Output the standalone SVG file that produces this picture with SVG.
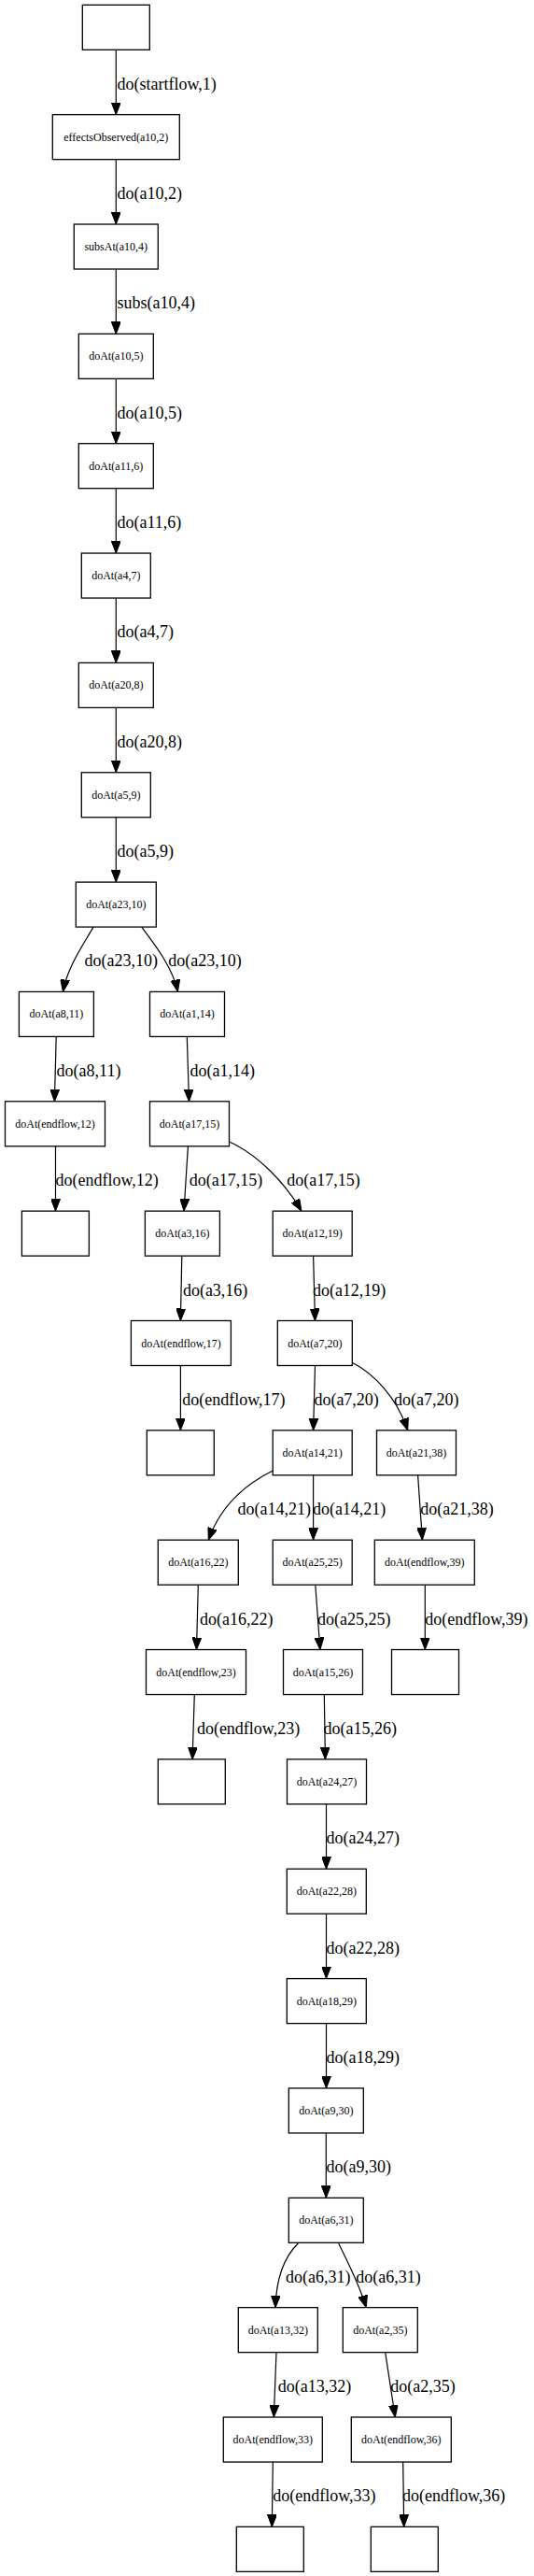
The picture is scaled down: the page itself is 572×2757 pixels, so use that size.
<svg xmlns="http://www.w3.org/2000/svg" width="572" height="2757" viewBox="0 0 572 2757">
<style>
rect{fill:#fff;stroke:#000;stroke-width:1.3}
.n{font-family:"Liberation Serif",serif;font-size:12px;text-anchor:middle;fill:#000}
.l{font-family:"Liberation Serif",serif;font-size:18px;fill:#000}
path{fill:none;stroke:#000;stroke-width:1.2;marker-end:url(#a)}
</style>
<defs>
<marker id="a" markerUnits="userSpaceOnUse" viewBox="0 0 13 10" refX="13" refY="5" markerWidth="13" markerHeight="10" orient="auto">
<path d="M0,0 L13,5 L0,10 z" style="fill:#000;stroke:#000;stroke-width:1;marker-end:none"/>
</marker>
</defs>
<rect x="0" y="0" width="572" height="2757" style="stroke:none"/>
<g id="edges">
<path d="M124.3,53.3 L124.3,122.65"/><text class="l" x="125.5" y="95.65">do(startflow,1)</text>
<path d="M124.3,170.65 L124.3,240"/><text class="l" x="125.5" y="213">do(a10,2)</text>
<path d="M124.3,288 L124.3,357.35"/><text class="l" x="125.5" y="330.35">subs(a10,4)</text>
<path d="M124.3,405.35 L124.3,474.7"/><text class="l" x="125.5" y="447.7">do(a10,5)</text>
<path d="M124.3,522.7 L124.3,592.05"/><text class="l" x="125.5" y="565.05">do(a11,6)</text>
<path d="M124.3,640.05 L124.3,709.4"/><text class="l" x="125.5" y="682.4">do(a4,7)</text>
<path d="M124.3,757.4 L124.3,826.75"/><text class="l" x="125.5" y="799.75">do(a20,8)</text>
<path d="M124.3,874.75 L124.3,944.1"/><text class="l" x="125.5" y="917.1">do(a5,9)</text>
<path d="M100,992.1 C90,1010 72,1035 67.5,1061.45"/><text class="l" x="90.5" y="1034.45">do(a23,10)</text>
<path d="M151.7,992.1 C165,1010 185,1035 190.4,1061.45"/><text class="l" x="180.2" y="1034.45">do(a23,10)</text>
<path d="M60.2,1109.45 L58.4,1178.8"/><text class="l" x="60.6" y="1151.8">do(a8,11)</text>
<path d="M200.3,1109.45 L202.5,1178.8"/><text class="l" x="203.6" y="1151.8">do(a1,14)</text>
<path d="M59.5,1226.8 L59.5,1296.15"/><text class="l" x="59.5" y="1269.15">do(endflow,12)</text>
<path d="M201.4,1226.8 L197,1296.15"/><text class="l" x="202.8" y="1269.15">do(a17,15)</text>
<path d="M245.1,1221.7 C275,1235 305,1265 322.9,1296.15"/><text class="l" x="307.2" y="1269.15">do(a17,15)</text>
<path d="M194.8,1344.15 L193.4,1413.5"/><text class="l" x="195.9" y="1386.5">do(a3,16)</text>
<path d="M335.6,1344.15 L337.5,1413.5"/><text class="l" x="334.9" y="1386.5">do(a12,19)</text>
<path d="M193.4,1461.5 L193.4,1530.85"/><text class="l" x="195.2" y="1503.85">do(endflow,17)</text>
<path d="M337.5,1461.5 L335.6,1530.85"/><text class="l" x="336.4" y="1503.85">do(a7,20)</text>
<path d="M377.2,1458.3 C400,1470 425,1495 436.7,1530.85"/><text class="l" x="422.1" y="1503.85">do(a7,20)</text>
<path d="M292.2,1574 C260,1590 235,1615 223.3,1648.2"/><text class="l" x="254.6" y="1621.2">do(a14,21)</text>
<path d="M335.6,1578.85 L335.6,1648.2"/><text class="l" x="334.9" y="1621.2">do(a14,21)</text>
<path d="M447.6,1578.85 L452.4,1648.2"/><text class="l" x="450.2" y="1621.2">do(a21,38)</text>
<path d="M212.3,1696.2 L210.5,1765.55"/><text class="l" x="214" y="1738.55">do(a16,22)</text>
<path d="M337.8,1696.2 L342.9,1765.55"/><text class="l" x="340" y="1738.55">do(a25,25)</text>
<path d="M455.3,1696.2 L455.3,1765.55"/><text class="l" x="455.3" y="1738.55">do(endflow,39)</text>
<path d="M208.3,1813.55 L206.1,1882.9"/><text class="l" x="210.9" y="1855.9">do(endflow,23)</text>
<path d="M347.3,1813.55 L348.4,1882.9"/><text class="l" x="346.6" y="1855.9">do(a15,26)</text>
<path d="M349.5,1930.9 L349.5,2000.25"/><text class="l" x="349.5" y="1973.25">do(a24,27)</text>
<path d="M349.5,2048.25 L349.5,2117.6"/><text class="l" x="349.5" y="2090.6">do(a22,28)</text>
<path d="M349.5,2165.6 L349.5,2234.95"/><text class="l" x="349.5" y="2207.95">do(a18,29)</text>
<path d="M349.3,2282.95 L349.3,2352.3"/><text class="l" x="349.5" y="2325.3">do(a9,30)</text>
<path d="M319.3,2401 C305,2415 296,2435 295,2469.65"/><text class="l" x="306" y="2442.65">do(a6,31)</text>
<path d="M362.7,2401 C372,2420 385,2445 392.3,2469.65"/><text class="l" x="381.3" y="2442.65">do(a6,31)</text>
<path d="M296,2517.65 L293.3,2587"/><text class="l" x="297.7" y="2560">do(a13,32)</text>
<path d="M412.7,2517.65 L423.3,2587"/><text class="l" x="418.3" y="2560">do(a2,35)</text>
<path d="M292.3,2635 L291.3,2704.35"/><text class="l" x="292.3" y="2677.35">do(endflow,33)</text>
<path d="M431.7,2635 L432.7,2704.35"/><text class="l" x="431" y="2677.35">do(endflow,36)</text>
</g>
<g id="n0"><rect x="88.3" y="5.3" width="72" height="48"/></g>
<g id="n1"><rect x="56.3" y="122.65" width="136" height="48"/><text class="n" x="124.3" y="150.65">effectsObserved(a10,2)</text></g>
<g id="n2"><rect x="79.3" y="240" width="90" height="48"/><text class="n" x="124.3" y="268">subsAt(a10,4)</text></g>
<g id="n3"><rect x="84.3" y="357.35" width="80" height="48"/><text class="n" x="124.3" y="385.35">doAt(a10,5)</text></g>
<g id="n4"><rect x="84.3" y="474.7" width="80" height="48"/><text class="n" x="124.3" y="502.7">doAt(a11,6)</text></g>
<g id="n5"><rect x="87.3" y="592.05" width="74" height="48"/><text class="n" x="124.3" y="620.05">doAt(a4,7)</text></g>
<g id="n6"><rect x="84.3" y="709.4" width="80" height="48"/><text class="n" x="124.3" y="737.4">doAt(a20,8)</text></g>
<g id="n7"><rect x="87.3" y="826.75" width="74" height="48"/><text class="n" x="124.3" y="854.75">doAt(a5,9)</text></g>
<g id="n8"><rect x="81.3" y="944.1" width="86" height="48"/><text class="n" x="124.3" y="972.1">doAt(a23,10)</text></g>
<g id="n9"><rect x="20.4" y="1061.45" width="80" height="48"/><text class="n" x="60.4" y="1089.45">doAt(a8,11)</text></g>
<g id="n10"><rect x="160.5" y="1061.45" width="80" height="48"/><text class="n" x="200.5" y="1089.45">doAt(a1,14)</text></g>
<g id="n11"><rect x="5.5" y="1178.8" width="107" height="48"/><text class="n" x="59" y="1206.8">doAt(endflow,12)</text></g>
<g id="n12"><rect x="160.5" y="1178.8" width="85" height="48"/><text class="n" x="203" y="1206.8">doAt(a17,15)</text></g>
<g id="n13"><rect x="23.4" y="1296.15" width="72" height="48"/></g>
<g id="n14"><rect x="155.4" y="1296.15" width="80" height="48"/><text class="n" x="195.4" y="1324.15">doAt(a3,16)</text></g>
<g id="n15"><rect x="292.2" y="1296.15" width="85" height="48"/><text class="n" x="334.7" y="1324.15">doAt(a12,19)</text></g>
<g id="n16"><rect x="140.4" y="1413.5" width="107" height="48"/><text class="n" x="193.9" y="1441.5">doAt(endflow,17)</text></g>
<g id="n17"><rect x="297.3" y="1413.5" width="80" height="48"/><text class="n" x="337.3" y="1441.5">doAt(a7,20)</text></g>
<g id="n18"><rect x="157.3" y="1530.85" width="72" height="48"/></g>
<g id="n19"><rect x="292.2" y="1530.85" width="85" height="48"/><text class="n" x="334.7" y="1558.85">doAt(a14,21)</text></g>
<g id="n20"><rect x="403.5" y="1530.85" width="85" height="48"/><text class="n" x="446" y="1558.85">doAt(a21,38)</text></g>
<g id="n21"><rect x="169.3" y="1648.2" width="86" height="48"/><text class="n" x="212.3" y="1676.2">doAt(a16,22)</text></g>
<g id="n22"><rect x="292.2" y="1648.2" width="85" height="48"/><text class="n" x="334.7" y="1676.2">doAt(a25,25)</text></g>
<g id="n23"><rect x="401.3" y="1648.2" width="107" height="48"/><text class="n" x="454.8" y="1676.2">doAt(endflow,39)</text></g>
<g id="n24"><rect x="156.5" y="1765.55" width="107" height="48"/><text class="n" x="210" y="1793.55">doAt(endflow,23)</text></g>
<g id="n25"><rect x="303.5" y="1765.55" width="85" height="48"/><text class="n" x="346" y="1793.55">doAt(a15,26)</text></g>
<g id="n26"><rect x="419.5" y="1765.55" width="72" height="48"/></g>
<g id="n27"><rect x="169.3" y="1882.9" width="72" height="48"/></g>
<g id="n28"><rect x="307.5" y="1882.9" width="85" height="48"/><text class="n" x="350" y="1910.9">doAt(a24,27)</text></g>
<g id="n29"><rect x="307.3" y="2000.25" width="85" height="48"/><text class="n" x="349.8" y="2028.25">doAt(a22,28)</text></g>
<g id="n30"><rect x="307.3" y="2117.6" width="85" height="48"/><text class="n" x="349.8" y="2145.6">doAt(a18,29)</text></g>
<g id="n31"><rect x="309.3" y="2234.95" width="80" height="48"/><text class="n" x="349.3" y="2262.95">doAt(a9,30)</text></g>
<g id="n32"><rect x="309.3" y="2352.3" width="80" height="48"/><text class="n" x="349.3" y="2380.3">doAt(a6,31)</text></g>
<g id="n33"><rect x="255.3" y="2469.65" width="85" height="48"/><text class="n" x="297.8" y="2497.65">doAt(a13,32)</text></g>
<g id="n34"><rect x="367.3" y="2469.65" width="80" height="48"/><text class="n" x="407.3" y="2497.65">doAt(a2,35)</text></g>
<g id="n35"><rect x="239.3" y="2587" width="106" height="48"/><text class="n" x="292.3" y="2615">doAt(endflow,33)</text></g>
<g id="n36"><rect x="376.3" y="2587" width="107" height="48"/><text class="n" x="429.8" y="2615">doAt(endflow,36)</text></g>
<g id="n37"><rect x="253.3" y="2704.35" width="72" height="48"/></g>
<g id="n38"><rect x="397.3" y="2704.35" width="72" height="48"/></g>
</svg>
